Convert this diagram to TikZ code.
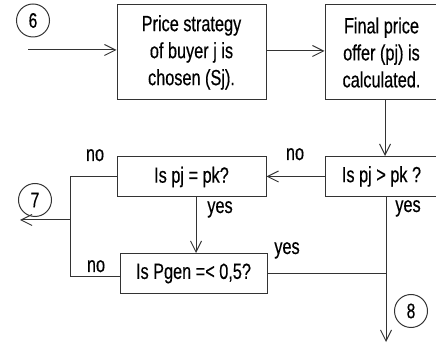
\documentclass[tikz,border=0pt]{standalone}
\usepackage{fontspec}
\setmainfont{Liberation Sans}[FakeStretch=0.74, FakeBold=0.4]
\usetikzlibrary{arrows.meta}

\tikzset{
  line/.style={draw=black!80, line width=1pt},
  txt/.style={font=\fontsize{22}{27}\selectfont},
  box/.style={line, txt, rectangle, inner sep=0pt, align=center},
  conn/.style={line, -{Straight Barb[length=11pt,width=11pt,line width=1pt]}},
  lbl/.style={txt, anchor=base, inner sep=0pt},
  numcirc/.style={line, circle, inner sep=0pt, minimum size=33pt,
                  font=\fontsize{21}{24}\selectfont}
}

\begin{document}
\begin{tikzpicture}[x=1pt, y=-1pt]
  \useasboundingbox (0,0) rectangle (436,344);

  % process and decision boxes
  \node[box, minimum width=149pt, minimum height=95pt] (b1) at (191.5,52.5)
       {Price strategy\\of buyer j is\\chosen (Sj).};
  \node[box, minimum width=113pt, minimum height=95pt] (b2) at (381.5,52.5)
       {Final price\\offer (pj) is\\calculated.};
  \node[box, minimum width=113pt, minimum height=40pt] (b3) at (381.5,176.5)
       {Is pj > pk ?};
  \node[box, minimum width=149pt, minimum height=40pt] (b4) at (191.5,177)
       {Is pj = pk?};
  \node[box, minimum width=147pt, minimum height=40pt] (b5) at (193.5,273.5)
       {Is Pgen =< 0,5?};

  % connector circles
  \node[numcirc] (c6) at (33,20.5) {6};
  \node[numcirc] (c7) at (35,200) {7};
  \node[numcirc] (c8) at (411,311) {8};

  % helper points
  \coordinate (s6) at (28,50);
  \coordinate (v1) at (385,0);
  \coordinate (j7) at (70,220);
  \coordinate (e7) at (20,220);
  \coordinate (v2) at (196,0);
  \coordinate (v3) at (386,342);

  % flow
  \draw[conn] (s6) -- (s6 -| b1.west);
  \draw[conn] ([yshift=1.5pt]b1.east) -- ([yshift=1.5pt]b2.west);
  \draw[conn] (b2.south -| v1) -- (b3.north -| v1);
  \draw[conn] (b3.west) -- (b3.west -| b4.east);
  \draw[line] (b4.west) -- (b4.west -| j7) -- ([yshift=-3pt]b5.west -| j7)
              -- ([yshift=-3pt]b5.west);
  \draw[conn] (j7) -- (e7);
  \draw[conn] (b4.south -| v2) -- (b5.north -| v2);
  \draw[conn] (b3.south -| v3) -- (v3);
  \draw[line] (b5.east) -- (b5.east -| v3);

  % branch labels
  \node[lbl] (n1) at (95,161) {no};
  \node[lbl] (n2) at (295,160) {no};
  \node[lbl] (n3) at (96,272) {no};
  \node[lbl] (y1) at (220,213) {yes};
  \node[lbl] (y2) at (408,212) {yes};
  \node[lbl] (y3) at (287,254) {yes};
\end{tikzpicture}
\end{document}
